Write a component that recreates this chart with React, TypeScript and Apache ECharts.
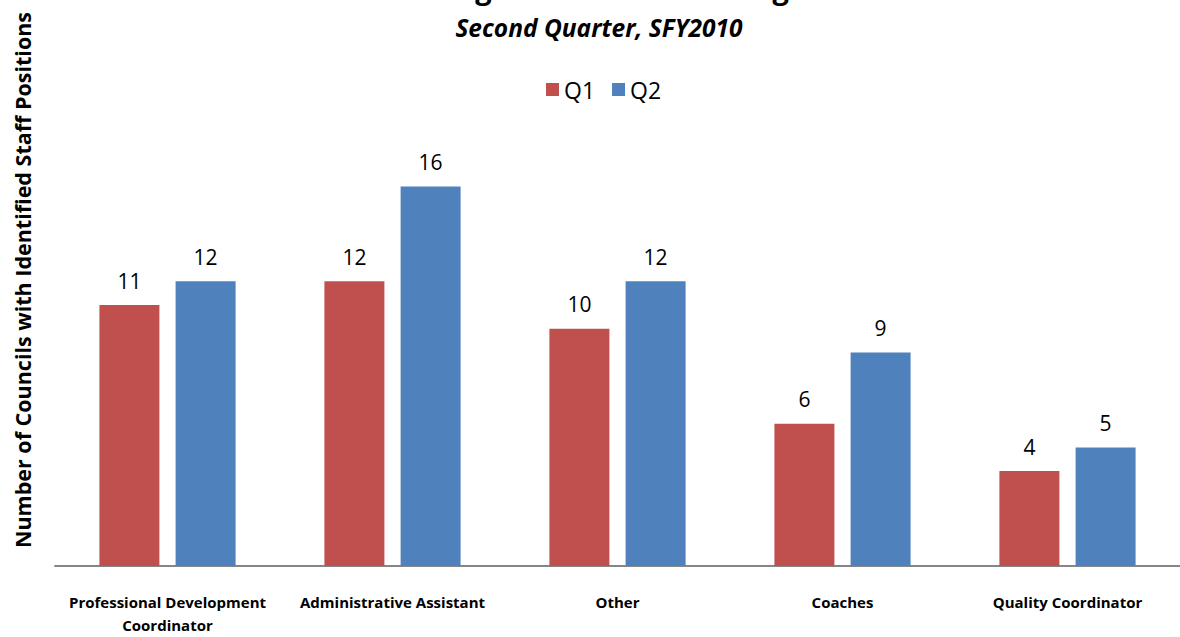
import React, { useEffect, useRef } from "react";
import * as echarts from "echarts";

const categories = [
  "Professional Development\nCoordinator",
  "Administrative Assistant",
  "Other",
  "Coaches",
  "Quality Coordinator",
];
const q1Values = [11, 12, 10, 6, 4];
const q2Values = [12, 16, 12, 9, 5];
const seriesNames = ["Q1", "Q2"];
const titleText = "Regional Councils Hiring Staff";
const subtitleText = "Second Quarter, SFY2010";
const yAxisName = "Number of Councils with Identified Staff Positions";

const FONT = "'Open Sans', 'Noto Sans', sans-serif";

export default function App() {
  const ref = useRef<HTMLDivElement>(null);
  useEffect(() => {
    document.body.style.margin = "0";
    const chart = echarts.init(ref.current!, null, { renderer: "svg" });
    const labelStyle = {
      show: true,
      position: "top",
      distance: 14,
      fontSize: 21,
      color: "#000",
      fontFamily: FONT,
    };
    chart.setOption({
      animation: false,
      textStyle: { fontFamily: FONT },
      color: ["#C0504D", "#4F81BD"],
      graphic: [
        {
          type: "text",
          x: 652,
          y: -13,
          style: {
            text: titleText,
            font: `bold 29px ${FONT}`,
            fill: "#000",
            align: "center",
            verticalAlign: "middle",
          },
        },
        {
          type: "text",
          x: 599,
          y: 27,
          style: {
            text: subtitleText,
            font: `italic bold 24.5px ${FONT}`,
            fill: "#000",
            align: "center",
            verticalAlign: "middle",
          },
        },
        {
          type: "text",
          x: 22,
          y: 280,
          rotation: Math.PI / 2,
          style: {
            text: yAxisName,
            font: `bold 21.5px ${FONT}`,
            fill: "#000",
            align: "center",
            verticalAlign: "middle",
          },
        },
      ],
      legend: {
        data: seriesNames,
        top: 73,
        left: 541,
        itemWidth: 13,
        itemHeight: 13,
        itemGap: 17,
        icon: "rect",
        textStyle: { fontSize: 23, color: "#000", fontFamily: FONT },
      },
      grid: { left: 55, right: 0, top: 139, bottom: 71, containLabel: false },
      xAxis: {
        type: "category",
        data: categories,
        axisLine: { lineStyle: { color: "#868686", width: 2 } },
        axisTick: { show: false },
        axisLabel: {
          interval: 0,
          margin: 24,
          fontSize: 15,
          fontWeight: "bold",
          color: "#000",
          lineHeight: 23,
          fontFamily: FONT,
        },
      },
      yAxis: {
        type: "value",
        min: 0,
        max: 18,
        interval: 2,
        axisLine: { show: false },
        axisTick: { show: false },
        axisLabel: { show: false },
        splitLine: { show: false },
      },
      series: [
        {
          name: seriesNames[0],
          type: "bar",
          data: q1Values,
          barWidth: 60,
          barGap: "27%",
          label: labelStyle,
        },
        {
          name: seriesNames[1],
          type: "bar",
          data: q2Values,
          barWidth: 60,
          barGap: "27%",
          label: labelStyle,
        },
      ],
    });
    return () => chart.dispose();
  }, []);
  return (
    <div
      ref={ref}
      style={{ position: "absolute", left: 0, top: 0, width: 1180, height: 637, background: "#fff" }}
    />
  );
}
